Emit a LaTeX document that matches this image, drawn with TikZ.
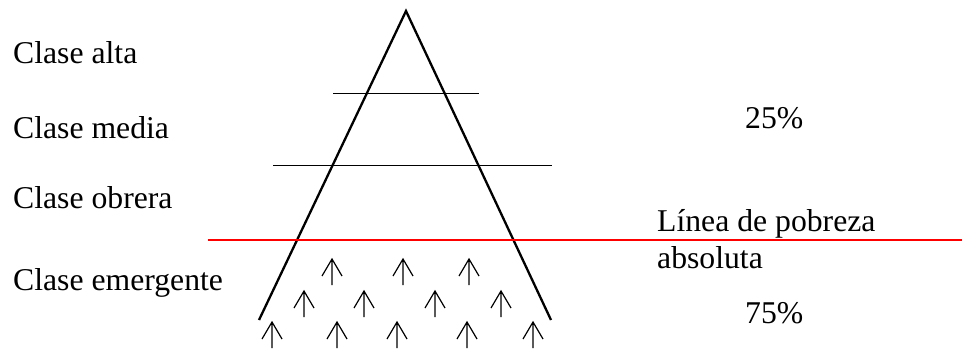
\documentclass[tikz,border=0pt]{standalone}
\usepackage{fontspec}
\setmainfont{Liberation Serif}

\begin{document}
\begin{tikzpicture}[x=1pt,y=-1pt,
  lbl/.style={anchor=base west,inner sep=0pt,font=\fontsize{31.7}{38}\selectfont},
  flecha/.pic={\draw[line width=1.2pt] (0,26) -- (0,0) (-10,17) -- (0,0) -- (10,17);}]

\useasboundingbox (0,0) rectangle (962,349);

\draw[line width=2.3pt] (259,320) -- (406,11) -- (551,320); % piramide

\draw[line width=1pt] (333,93) -- (479,93);
\draw[line width=1pt] (273,165) -- (552,165);
\draw[red,line width=1.2pt] (208,240) -- (962,240); % pobreza

\node[lbl] (alta) at (13,63) {Clase alta};
\node[lbl] (media) at (13,138) {Clase media};
\node[lbl] (obrera) at (13,208) {Clase obrera};
\node[lbl] (emergente) at (13,290) {Clase emergente};

\node[lbl] (p25) at (745,128) {25\%};
\node[lbl] (linea) at (657,231) {Línea de pobreza};
\node[lbl] (absoluta) at (657,268) {absoluta};
\node[lbl] (p75) at (745,323) {75\%};

% flechas
\pic at (332,259) {flecha};
\pic at (403,259) {flecha};
\pic at (469,259) {flecha};

\pic at (304,291) {flecha};
\pic at (364,291) {flecha};
\pic at (435,291) {flecha};
\pic at (501,291) {flecha};

\pic at (272,322) {flecha};
\pic at (337,322) {flecha};
\pic at (397,322) {flecha};
\pic at (467,322) {flecha};
\pic at (533,322) {flecha};

\end{tikzpicture}
\end{document}
